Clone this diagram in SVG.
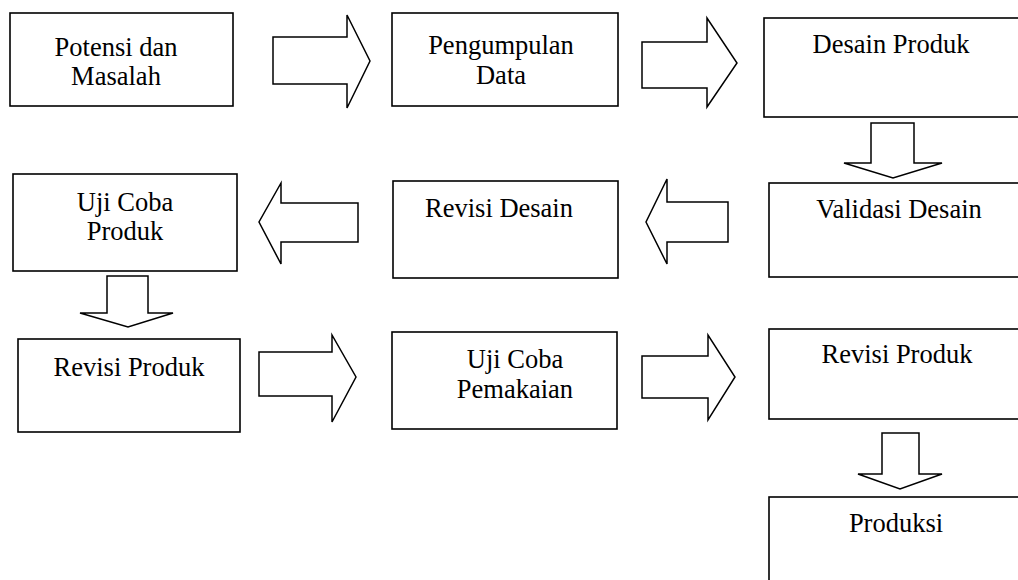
<svg xmlns="http://www.w3.org/2000/svg" width="1018" height="580" viewBox="0 0 1018 580">
<style>
.box{fill:#fff;stroke:#000;stroke-width:1.6}
.arr{fill:#fff;stroke:#000;stroke-width:1.5;stroke-linejoin:miter}
.t{font-family:"Liberation Serif","Times New Roman",serif;font-size:26.5px;fill:#000;text-anchor:middle}
</style>
<rect width="1018" height="580" fill="#fff"/>
<g id="connectors">
<polygon class="arr" points="273,37 347,37 347,15 370,61 347,108 347,84 273,84"/>
<polygon class="arr" points="642,42 707,42 707,18 737,63 707,107 707,88 642,88"/>
<polygon class="arr" points="871,123 914,123 914,163 942,163 893,178 844,163 871,163"/>
<polygon class="arr" points="728,202 667,202 667,179 646,222 667,264 667,242 728,242"/>
<polygon class="arr" points="358,203 281,203 281,183 259,222 281,264 281,242 358,242"/>
<polygon class="arr" points="107,276 148,276 148,313 173,313 128,327 80,313 107,313"/>
<polygon class="arr" points="259,352 332,352 332,335 356,377 332,422 332,396 259,396"/>
<polygon class="arr" points="642,356 708,356 708,335 735,377 708,420 708,398 642,398"/>
<polygon class="arr" points="882,433 919,433 919,474 942,474 900,489 858,474 882,474"/>
</g>
<g id="n1"><rect class="box" x="10" y="13" width="223" height="93"/><text class="t" x="116" y="56">Potensi dan</text><text class="t" x="116" y="85">Masalah</text></g>
<g id="n2"><rect class="box" x="392" y="13" width="226" height="93"/><text class="t" x="501" y="54">Pengumpulan</text><text class="t" x="501" y="84">Data</text></g>
<g id="n3"><rect class="box" x="764" y="18" width="262" height="99"/><text class="t" x="891" y="53">Desain Produk</text></g>
<g id="n4"><rect class="box" x="769" y="183" width="257" height="94"/><text class="t" x="899" y="218">Validasi Desain</text></g>
<g id="n5"><rect class="box" x="393" y="181" width="225" height="97"/><text class="t" x="499" y="217">Revisi Desain</text></g>
<g id="n6"><rect class="box" x="13" y="174" width="224" height="97"/><text class="t" x="125" y="211">Uji Coba</text><text class="t" x="125" y="240">Produk</text></g>
<g id="n7"><rect class="box" x="18" y="339" width="222" height="93"/><text class="t" x="129" y="376">Revisi Produk</text></g>
<g id="n8"><rect class="box" x="392" y="332" width="225" height="97"/><text class="t" x="515" y="368">Uji Coba</text><text class="t" x="515" y="398">Pemakaian</text></g>
<g id="n9"><rect class="box" x="769" y="329" width="257" height="90"/><text class="t" x="897" y="363">Revisi Produk</text></g>
<g id="n10"><rect class="box" x="769" y="497" width="257" height="95"/><text class="t" x="896" y="532">Produksi</text></g>
</svg>
